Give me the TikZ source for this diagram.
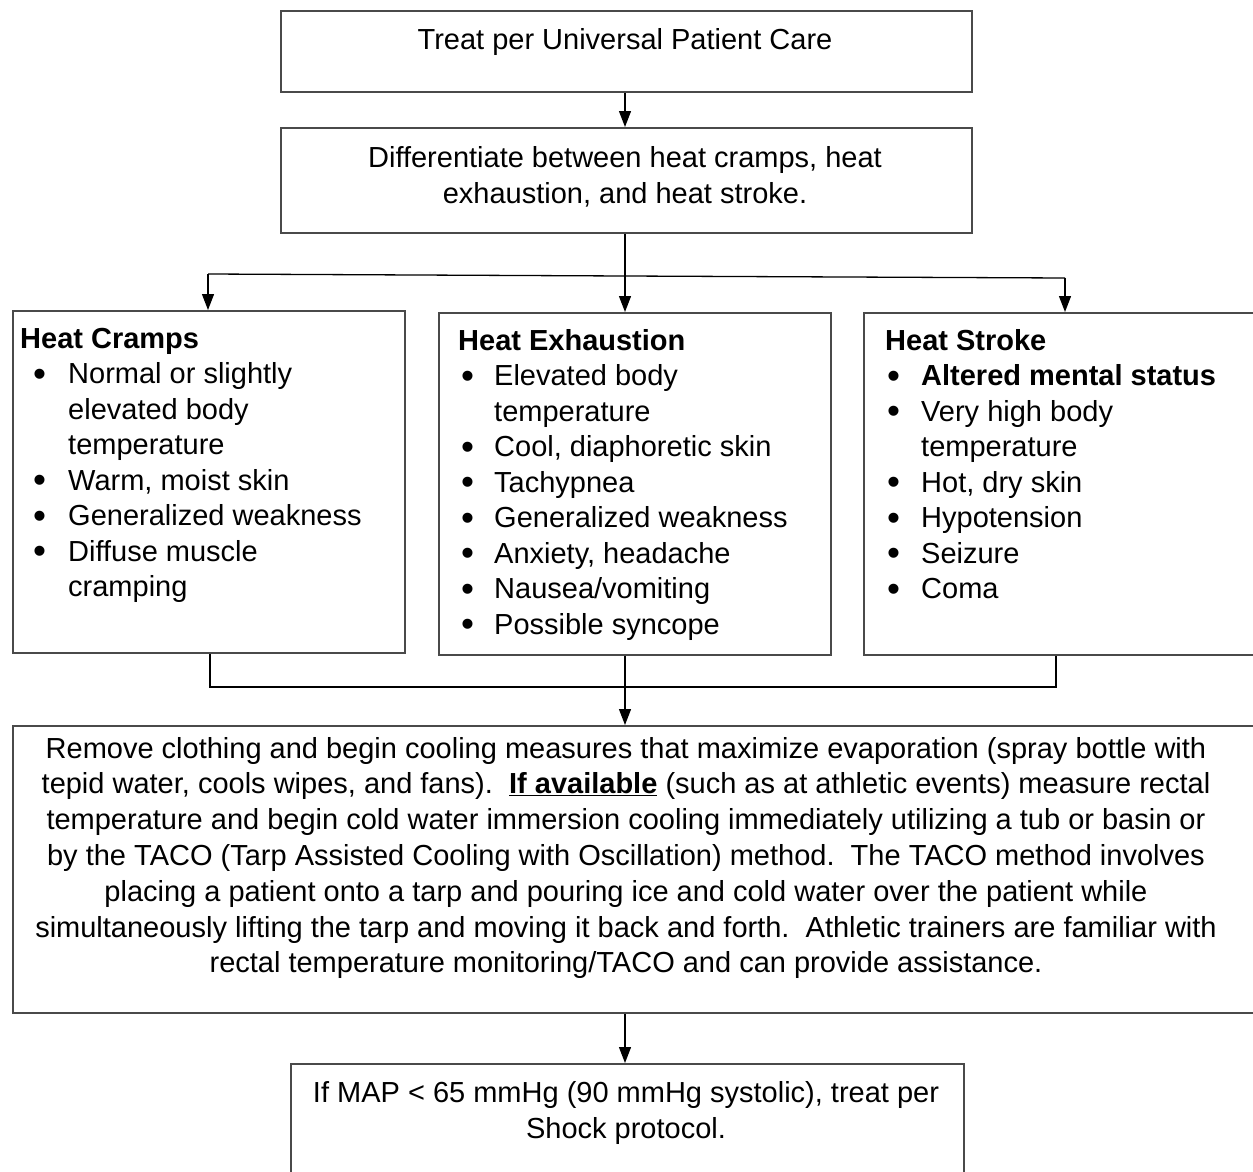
\documentclass[tikz,border=0pt]{standalone}
\usepackage{fontspec}
\setmainfont{Liberation Sans}
\usetikzlibrary{arrows.meta}
\definecolor{edge}{HTML}{4A4A4A}
\newcommand\blt[2]{\makebox[#2][l]{\hspace{#1}\raisebox{-2.5pt}{\fontsize{37}{37}\selectfont\textbullet}}}
\begin{document}
\begin{tikzpicture}[x=1pt,y=-1pt,
  box/.style={draw=edge,line width=1.8pt,inner sep=0pt,anchor=north west},
  txt/.style={font=\fontsize{29}{35.8}\selectfont,align=center,inner sep=0pt},
  lst/.style={font=\fontsize{29}{35.5}\selectfont,inner sep=0pt,anchor=base west},
  conn/.style={draw=black,line width=1.3pt},
  arr/.style={conn,-{Triangle[width=12pt,length=16pt]}}]
\useasboundingbox (0,0) rectangle (1253,1172);
\fill[white] (0,0) rectangle (1253,1172);

% boxes
\node[box,minimum width=691pt,minimum height=81pt] (b1) at (280,10) {};
\node[box,minimum width=691pt,minimum height=105pt] (b2) at (280,127) {};
\node[box,minimum width=392pt,minimum height=342pt] (c1) at (12,310) {};
\node[box,minimum width=392pt,minimum height=342pt] (c2) at (438,312) {};
\node[box,minimum width=400pt,minimum height=342pt] (c3) at (863,312) {};
\node[box,minimum width=1250pt,minimum height=287pt] (b4) at (12,725) {};
\node[box,minimum width=673pt,minimum height=130pt] (b5) at (290,1063) {};

% texts
\node[txt] (t1) at (625,42) {Treat per Universal Patient Care};
\node[txt] (t2) at (625,177) {Differentiate between heat cramps, heat\\exhaustion, and heat stroke.};
\node[txt] (t4) at (626,858) {Remove clothing and begin cooling measures that maximize evaporation (spray bottle with\\
tepid water, cools wipes, and fans).\ \ \underline{\textbf{If available}} (such as at athletic events) measure rectal\\
temperature and begin cold water immersion cooling immediately utilizing a tub or basin or\\
by the TACO (Tarp Assisted Cooling with Oscillation) method.\ \ The TACO method involves\\
placing a patient onto a tarp and pouring ice and cold water over the patient while\\
simultaneously lifting the tarp and moving it back and forth.\ \ Athletic trainers are familiar with\\
rectal temperature monitoring/TACO and can provide assistance.};
\node[txt] (t5) at (626,1113) {If MAP < 65 mmHg (90 mmHg systolic), treat per\\Shock protocol.};

\node[lst] (l1) at (20,348) {\begin{tabular}[t]{@{}l@{}l@{}}
\multicolumn{2}{@{}l@{}}{\bfseries Heat Cramps}\\
\blt{13pt}{48pt} & Normal or slightly\\
 & elevated body\\
 & temperature\\
\blt{13pt}{48pt} & Warm, moist skin\\
\blt{13pt}{48pt} & Generalized weakness\\
\blt{13pt}{48pt} & Diffuse muscle\\
 & cramping
\end{tabular}};
\node[lst] (l2) at (458,350) {\begin{tabular}[t]{@{}l@{}l@{}}
\multicolumn{2}{@{}l@{}}{\bfseries Heat Exhaustion}\\
\blt{3pt}{36pt} & Elevated body\\
 & temperature\\
\blt{3pt}{36pt} & Cool, diaphoretic skin\\
\blt{3pt}{36pt} & Tachypnea\\
\blt{3pt}{36pt} & Generalized weakness\\
\blt{3pt}{36pt} & Anxiety, headache\\
\blt{3pt}{36pt} & Nausea/vomiting\\
\blt{3pt}{36pt} & Possible syncope
\end{tabular}};
\node[lst] (l3) at (885,350) {\begin{tabular}[t]{@{}l@{}l@{}}
\multicolumn{2}{@{}l@{}}{\bfseries Heat Stroke}\\
\blt{2pt}{36pt} & \bfseries Altered mental status\\
\blt{2pt}{36pt} & Very high body\\
 & temperature\\
\blt{2pt}{36pt} & Hot, dry skin\\
\blt{2pt}{36pt} & Hypotension\\
\blt{2pt}{36pt} & Seizure\\
\blt{2pt}{36pt} & Coma
\end{tabular}};

% connectors
\coordinate (jl) at (208,274);
\coordinate (jc) at (625,276);
\coordinate (jr) at (1065,278);
\coordinate (ml) at (210,687);
\coordinate (mc) at (625,687);
\coordinate (mr) at (1056,687);

\draw[arr] (b1.south -| jc) -- (b2.north -| jc);
\draw[arr] (b2.south -| jc) -- (c2.north -| jc);
\draw[conn] (jl) -- (jc) -- (jr);
\draw[arr] (jl) -- (jl |- c1.north);
\draw[arr] (jr) -- (jr |- c3.north);

\draw[conn] (c1.south -| ml) -- (ml) -- (mr) -- (c3.south -| mr);
\draw[arr] (c2.south -| mc) -- (b4.north -| mc);
\draw[arr] (b4.south -| mc) -- (b5.north -| mc);
\end{tikzpicture}
\end{document}
